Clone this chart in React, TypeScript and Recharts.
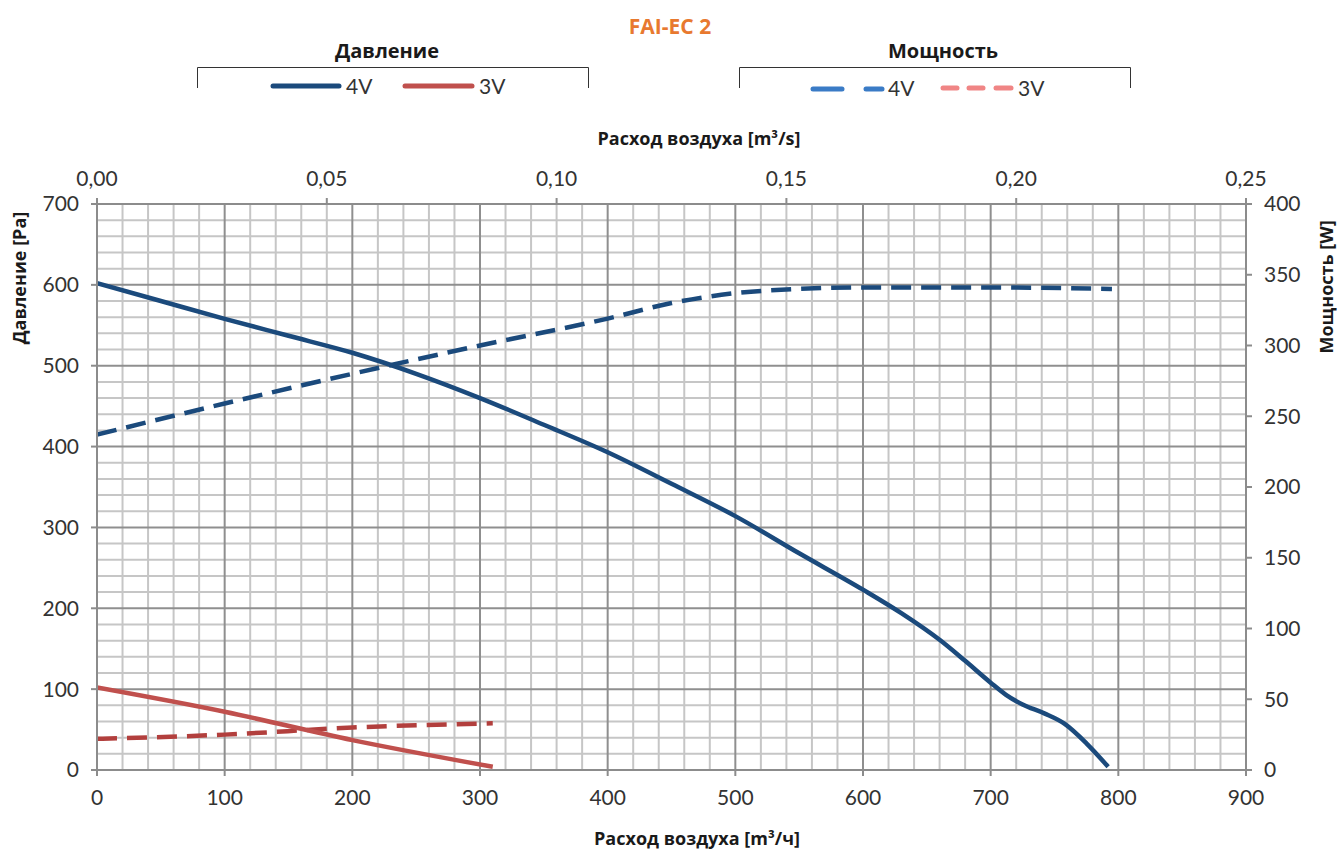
import React from 'react';
import { LineChart, Line, XAxis, YAxis, CartesianGrid } from 'recharts';

// air flow, m3/h
const flow4V = [0, 50, 100, 150, 200, 250, 300, 350, 400, 450, 500, 550, 600, 630, 660, 680, 700, 712, 725, 742, 758, 775, 792];
const pressure4V = [602, 580, 558, 537, 516, 490, 460, 427, 393, 354, 314, 268, 223, 194, 161, 135, 108, 93, 81, 70, 57, 33, 4];

const flowPower4V = [0, 100, 200, 300, 400, 450, 500, 550, 600, 700, 795];
const power4V = [237, 259, 280, 300, 319, 330, 337, 340, 341, 341, 340];

const flow3V = [0, 100, 200, 310];
const pressure3V = [102, 72, 37, 4];
const power3V = [22, 25, 30, 33];

const flowTicks = [0, 100, 200, 300, 400, 500, 600, 700, 800, 900];
const flowSecTicks = [0, 0.05, 0.1, 0.15, 0.2, 0.25];
const pressureTicks = [0, 100, 200, 300, 400, 500, 600, 700];
const powerTicks = [0, 50, 100, 150, 200, 250, 300, 350, 400];

const minorFlow = Array.from({ length: 46 }, (_, i) => i * 20).filter((v) => v % 100 !== 0);
const majorFlow = [100, 200, 300, 400, 500, 600, 700, 800];
const minorPressure = Array.from({ length: 36 }, (_, i) => i * 20).filter((v) => v % 100 !== 0);
const majorPressure = [100, 200, 300, 400, 500, 600];

const toRows = (xs: number[], ys: number[]) => xs.map((q, i) => ({ q, v: ys[i] }));

const DARK_BLUE = '#1b4a7c';
const RED = '#c0504d';
const DARK_RED = '#b23f3d';
const AXIS = '#8c8c8c';
const tickStyle = { fontFamily: 'Lato, sans-serif', fontSize: 21, fill: '#333' };
const boldFont = '"Open Sans", sans-serif';

const xs = (p: any, v: number) =>
  p.xAxis && typeof p.xAxis.scale === 'function' ? p.xAxis.scale(v) : p.offset.left + (v / 900) * p.offset.width;
const ys = (p: any, v: number) =>
  p.yAxis && typeof p.yAxis.scale === 'function' ? p.yAxis.scale(v) : p.offset.top + p.offset.height - (v / 700) * p.offset.height;

function Overlay() {
  const label = { fontFamily: 'Lato, sans-serif', fontSize: 21, fill: '#333' };
  return (
    <svg width={1339} height={852} style={{ position: 'absolute', left: 0, top: 0, pointerEvents: 'none' }}>
      <text x={670} y={34} textAnchor="middle" fontFamily={boldFont} fontWeight={700} fontSize={21} fill="#e8792f">
        FAI-EC 2
      </text>

      <text x={387} y={58} textAnchor="middle" fontFamily={boldFont} fontWeight={700} fontSize={20} fill="#1a1a1a">
        Давление
      </text>
      <path d="M197.5,88 V67.5 H588.5 V88" fill="none" stroke="#333" strokeWidth={1} />
      <line x1={273} y1={86} x2={339} y2={86} stroke={DARK_BLUE} strokeWidth={5} strokeLinecap="round" />
      <text x={346} y={94} {...label}>4V</text>
      <line x1={405} y1={86} x2={472} y2={86} stroke={RED} strokeWidth={5} strokeLinecap="round" />
      <text x={479} y={94} {...label}>3V</text>

      <text x={943} y={58} textAnchor="middle" fontFamily={boldFont} fontWeight={700} fontSize={20} fill="#1a1a1a">
        Мощность
      </text>
      <path d="M739.5,88 V67.5 H1130.5 V88" fill="none" stroke="#333" strokeWidth={1} />
      <line x1={813} y1={89} x2={842} y2={89} stroke="#3a7bc6" strokeWidth={5} strokeLinecap="round" />
      <line x1={866} y1={89} x2={882} y2={89} stroke="#3a7bc6" strokeWidth={5} strokeLinecap="round" />
      <text x={888} y={96} {...label}>4V</text>
      <line x1={943} y1={88} x2={957} y2={88} stroke="#f08585" strokeWidth={5} strokeLinecap="round" />
      <line x1={969} y1={88} x2={983} y2={88} stroke="#f08585" strokeWidth={5} strokeLinecap="round" />
      <line x1={996} y1={88} x2={1011} y2={88} stroke="#f08585" strokeWidth={5} strokeLinecap="round" />
      <text x={1018} y={96} {...label}>3V</text>

      <text x={699} y={145} textAnchor="middle" fontFamily={boldFont} fontWeight={700} fontSize={18} fill="#1a1a1a">
        Расход воздуха  [m³/s]
      </text>
      <text x={697} y={845} textAnchor="middle" fontFamily={boldFont} fontWeight={700} fontSize={18} fill="#1a1a1a">
        Расход воздуха [m³/ч]
      </text>
      <text
        transform="translate(26,278) rotate(-90)"
        textAnchor="middle"
        fontFamily={boldFont}
        fontWeight={700}
        fontSize={18}
        fill="#1a1a1a"
      >
        Давление [Pa]
      </text>
      <text
        transform="translate(1333,287) rotate(-90)"
        textAnchor="middle"
        fontFamily={boldFont}
        fontWeight={700}
        fontSize={18}
        fill="#1a1a1a"
      >
        Мощность [W]
      </text>
    </svg>
  );
}

export default function App() {
  return (
    <div style={{ position: 'absolute', left: 0, top: 0, width: 1339, height: 852, background: '#fff' }}>
      <LineChart width={1339} height={852} margin={{ top: 0, right: 0, bottom: 0, left: 0 }}>
        <CartesianGrid
          xAxisId="q"
          yAxisId="p"
          stroke="#c6c6c6"
          strokeWidth={2}
          verticalCoordinatesGenerator={(p: any) => minorFlow.map((v) => xs(p, v))}
          horizontalCoordinatesGenerator={(p: any) => minorPressure.map((v) => ys(p, v))}
        />
        <CartesianGrid
          xAxisId="q"
          yAxisId="p"
          stroke="#8f8f8f"
          strokeWidth={2}
          verticalCoordinatesGenerator={(p: any) => majorFlow.map((v) => xs(p, v))}
          horizontalCoordinatesGenerator={(p: any) => majorPressure.map((v) => ys(p, v))}
        />
        <XAxis
          xAxisId="q"
          type="number"
          dataKey="q"
          orientation="bottom"
          domain={[0, 900]}
          ticks={flowTicks}
          allowDataOverflow
          height={82}
          tickSize={6}
          tickMargin={14}
          stroke={AXIS}
          strokeWidth={2}
          tick={tickStyle}
        />
        <XAxis
          xAxisId="qs"
          type="number"
          dataKey="qs"
          orientation="top"
          domain={[0, 0.25]}
          ticks={flowSecTicks}
          allowDataOverflow
          height={204}
          tickSize={6}
          tickMargin={12}
          stroke={AXIS}
          strokeWidth={2}
          tick={tickStyle}
          tickFormatter={(v: number) => v.toFixed(2).replace('.', ',')}
        />
        <YAxis
          yAxisId="p"
          type="number"
          domain={[0, 700]}
          ticks={pressureTicks}
          allowDataOverflow
          width={97}
          tickSize={6}
          tickMargin={12}
          stroke={AXIS}
          strokeWidth={2}
          tick={tickStyle}
        />
        <YAxis
          yAxisId="w"
          type="number"
          orientation="right"
          domain={[0, 400]}
          ticks={powerTicks}
          allowDataOverflow
          width={93}
          tickSize={6}
          tickMargin={12}
          stroke={AXIS}
          strokeWidth={2}
          tick={tickStyle}
        />
        <Line
          xAxisId="q"
          yAxisId="w"
          data={toRows(flowPower4V, power4V)}
          dataKey="v"
          type="monotone"
          stroke={DARK_BLUE}
          strokeWidth={4.5}
          strokeDasharray="20 10"
          dot={false}
          isAnimationActive={false}
        />
        <Line
          xAxisId="q"
          yAxisId="w"
          data={toRows(flow3V, power3V)}
          dataKey="v"
          type="monotone"
          stroke={DARK_RED}
          strokeWidth={4.5}
          strokeDasharray="20 10"
          dot={false}
          isAnimationActive={false}
        />
        <Line
          xAxisId="q"
          yAxisId="p"
          data={toRows(flow4V, pressure4V)}
          dataKey="v"
          type="monotone"
          stroke={DARK_BLUE}
          strokeWidth={4.5}
          dot={false}
          isAnimationActive={false}
        />
        <Line
          xAxisId="q"
          yAxisId="p"
          data={toRows(flow3V, pressure3V)}
          dataKey="v"
          type="monotone"
          stroke={RED}
          strokeWidth={4.5}
          dot={false}
          isAnimationActive={false}
        />
      </LineChart>
      <Overlay />
    </div>
  );
}
